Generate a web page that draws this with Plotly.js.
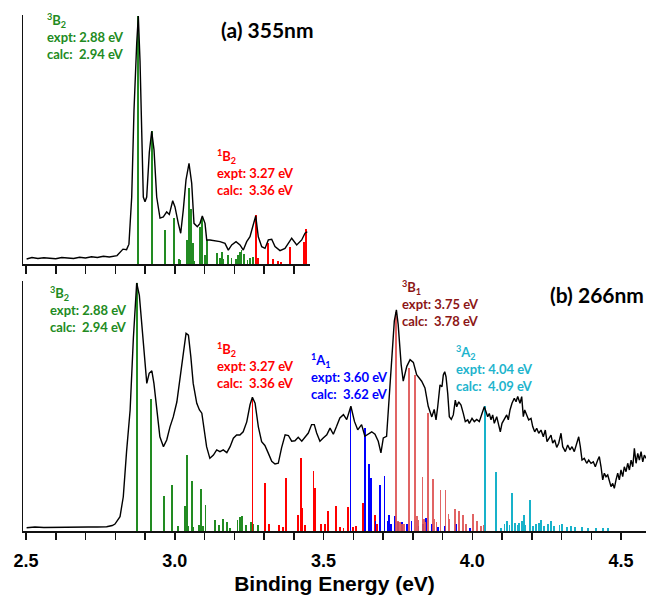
<!DOCTYPE html>
<html>
<head>
<meta charset="utf-8">
<script src="https://cdn.plot.ly/plotly-3.0.1.min.js"></script>
<style>html,body{margin:0;padding:0;background:#fff;}#chart{width:646px;height:595px;}</style>
</head>
<body>
<div id="chart"></div>
<script>
// ---------- (a) 355 nm : experimental spectrum ----------
const topE = [2.502,2.520,2.540,2.560,2.580,2.600,2.620,2.640,2.660,2.680,2.700,2.720,2.740,2.760,2.780,2.806,2.815,2.826,2.838,2.846,2.8553,2.8630,2.8721,2.8775,2.8832,2.8889,2.8943,2.9000,2.9057,2.9145,2.9225,2.9303,2.9393,2.9504,2.9615,2.9729,2.9817,2.9931,3.0008,3.0119,3.0200,3.0287,3.0378,3.0479,3.0570,3.0647,3.0758,3.0849,3.0926,3.1017,3.1074,3.1185,3.1353,3.1521,3.1689,3.1800,3.1914,3.2059,3.2193,3.2304,3.2418,3.2529,3.2620,3.2721,3.2808,3.2923,3.3034,3.3145,3.3259,3.3370,3.3538,3.3706,3.3931,3.4099,3.4267,3.4378,3.4455];
const topI = [0.020,0.026,0.022,0.025,0.023,0.021,0.026,0.023,0.022,0.027,0.024,0.029,0.026,0.031,0.028,0.034,0.045,0.060,0.058,0.080,0.27,0.62,0.89,1.0,0.82,0.49,0.27,0.251,0.27,0.45,0.535,0.46,0.27,0.185,0.19,0.21,0.20,0.255,0.23,0.164,0.124,0.218,0.339,0.406,0.325,0.164,0.150,0.164,0.194,0.164,0.097,0.097,0.095,0.090,0.083,0.056,0.077,0.090,0.077,0.056,0.090,0.110,0.150,0.194,0.110,0.070,0.063,0.097,0.100,0.070,0.054,0.063,0.104,0.077,0.097,0.124,0.130];

// (a) calculated sticks
const topGreenE = [2.8775,2.9235,2.968,2.9965,3.0153,3.0186,3.040,3.048,3.0546,3.0603,3.0655,3.0849,3.0926,3.1017,3.1095,3.141,3.152,3.1578,3.164,3.180,3.191,3.206,3.2125,3.219,3.224,3.233,3.2445,3.253,3.264];
const topGreenI = [1.0,0.535,0.137,0.184,0.020,0.015,0.097,0.305,0.220,0.083,0.012,0.150,0.185,0.036,0.097,0.043,0.025,0.050,0.020,0.035,0.025,0.020,0.035,0.047,0.055,0.040,0.015,0.025,0.030];
const topRedE = [3.272,3.281,3.3145,3.331,3.348,3.357,3.387,3.434,3.441];
const topRedI = [0.196,0.023,0.085,0.020,0.012,0.010,0.070,0.090,0.140];

// ---------- (b) 266 nm : experimental spectrum ----------
const botE = [2.502,2.530,2.560,2.590,2.620,2.650,2.680,2.710,2.740,2.771,2.790,2.799,2.816,2.827,2.838,2.850,2.861,2.872,2.881,2.892,2.906,2.914,2.923,2.930,2.939,2.950,2.962,2.973,2.984,2.995,3.007,3.018,3.029,3.038,3.046,3.054,3.062,3.074,3.083,3.091,3.098,3.107,3.118,3.130,3.141,3.152,3.163,3.175,3.186,3.197,3.208,3.219,3.230,3.242,3.253,3.261,3.270,3.281,3.292,3.303,3.314,3.326,3.337,3.348,3.359,3.371,3.382,3.393,3.404,3.415,3.427,3.438,3.449,3.460,3.469,3.477,3.488,3.499,3.511,3.522,3.533,3.544,3.555,3.567,3.578,3.592,3.604,3.615,3.628,3.639,3.651,3.662,3.673,3.684,3.693,3.701,3.712,3.720,3.729,3.738,3.745,3.751,3.761,3.768,3.780,3.791,3.802,3.813,3.830,3.841,3.852,3.864,3.872,
  3.8782,3.8839,3.8916,3.8983,3.9027,3.9074,3.9118,3.9175,3.9229,3.9296,3.9363,3.9430,3.9477,3.9545,3.9622,3.9699,3.9766,3.9847,3.9901,3.9992,4.0069,4.0150,4.0237,4.0328,4.0405,4.0462,4.0519,4.0573,4.0630,4.0687,4.0741,4.0822,4.0889,4.0943,4.1000,4.1077,4.1158,4.1212,4.1269,4.1336,4.1413,4.1471,4.1528,4.1605,4.1662,4.1716,4.1763,4.1830,4.1897,4.1975,4.2032,4.2099,4.2166,4.2234,4.2311,4.2388,4.2455,4.2513,4.2590,4.2647,4.2704,4.2771,4.2839,4.2906,4.2983,4.3040,4.3128,4.3208,4.3286,4.3353,4.3430,4.3511,4.3578,4.3632,4.3689,4.3766,4.3847,4.3914,4.3992,4.4069,4.4136,4.4217,4.4271,4.4328,4.4385,4.4439,4.4496,4.4553,4.4607,4.4664,4.4721,4.4775,4.4832,4.4889,4.4943,4.5000,4.5057,4.5111,4.5168,4.5225,4.5282,4.5339,4.5396,4.5449,4.5506,4.5563,4.5617,4.5674,4.5731,4.5785,4.5842];
const botI = [0.013,0.016,0.014,0.015,0.013,0.014,0.015,0.016,0.016,0.017,0.022,0.028,0.058,0.138,0.32,0.488,0.78,1.0,0.95,0.78,0.595,0.636,0.646,0.595,0.488,0.38,0.34,0.367,0.42,0.46,0.52,0.61,0.717,0.797,0.79,0.703,0.595,0.515,0.488,0.475,0.42,0.34,0.293,0.306,0.327,0.32,0.327,0.316,0.34,0.374,0.387,0.387,0.40,0.44,0.509,0.539,0.515,0.42,0.36,0.345,0.315,0.281,0.27,0.273,0.335,0.388,0.385,0.362,0.364,0.378,0.362,0.38,0.395,0.429,0.429,0.395,0.362,0.375,0.388,0.415,0.39,0.422,0.456,0.469,0.449,0.503,0.442,0.408,0.429,0.382,0.39,0.40,0.39,0.362,0.315,0.375,0.382,0.536,0.684,0.846,0.892,0.832,0.671,0.604,0.664,0.691,0.68,0.63,0.604,0.577,0.503,0.46,0.49,
  0.448,0.501,0.589,0.582,0.629,0.642,0.622,0.555,0.461,0.450,0.468,0.528,0.501,0.521,0.508,0.474,0.441,0.448,0.434,0.454,0.441,0.450,0.441,0.474,0.501,0.481,0.461,0.474,0.448,0.468,0.434,0.461,0.421,0.400,0.434,0.448,0.468,0.448,0.488,0.515,0.535,0.521,0.542,0.515,0.542,0.461,0.488,0.468,0.448,0.454,0.421,0.400,0.414,0.394,0.407,0.380,0.407,0.360,0.374,0.387,0.354,0.367,0.337,0.354,0.394,0.340,0.320,0.347,0.327,0.340,0.320,0.354,0.380,0.340,0.286,0.293,0.273,0.286,0.273,0.279,0.259,0.286,0.300,0.259,0.206,0.233,0.219,0.226,0.206,0.179,0.192,0.172,0.206,0.233,0.206,0.246,0.219,0.259,0.239,0.273,0.246,0.286,0.259,0.333,0.273,0.313,0.286,0.320,0.279,0.306,0.293];

// (b) calculated sticks, one pair of arrays per state
const botGreenE = [2.874,2.919,2.964,2.991,3.010,3.034,3.042,3.046,3.058,3.062,3.082,3.089,3.095,3.103,3.135,3.148,3.161,3.175,3.186,3.211,3.220,3.227,3.240,3.256,3.264,3.279];
const botGreenI = [1.0,0.533,0.14,0.184,0.019,0.10,0.308,0.02,0.203,0.015,0.025,0.171,0.02,0.104,0.044,0.025,0.05,0.035,0.012,0.046,0.055,0.059,0.025,0.035,0.03,0.025];
const botRedE = [3.261,3.304,3.318,3.351,3.365,3.375,3.413,3.424,3.429,3.438,3.466,3.471,3.492,3.505,3.516,3.542,3.555,3.567,3.583,3.600,3.608,3.632,3.636,3.673,3.680];
const botRedI = [0.539,0.194,0.03,0.025,0.015,0.214,0.063,0.294,0.093,0.025,0.241,0.173,0.03,0.03,0.079,0.102,0.015,0.012,0.096,0.015,0.02,0.113,0.08,0.066,0.03];
const botBlueE = [3.591,3.640,3.654,3.659,3.675,3.690,3.705,3.716,3.720,3.727,3.740,3.751,3.765,3.780,3.796,3.819,3.835,3.845,3.864,3.886,3.908,3.945,3.992];
const botBlueI = [0.502,0.415,0.27,0.213,0.04,0.186,0.22,0.04,0.066,0.03,0.06,0.035,0.035,0.03,0.04,0.02,0.03,0.052,0.03,0.015,0.02,0.03,0.012];
const bot3B1E = [3.744,3.750,3.757,3.763,3.770,3.788,3.808,3.815,3.819,3.833,3.838,3.841,3.852,3.867,3.872,3.880,3.893,3.910,3.920,3.923,3.943,3.955,3.968,3.980,4.002,4.015,4.030,4.040];
const bot3B1I = [0.884,0.04,0.035,0.03,0.03,0.656,0.629,0.06,0.045,0.219,0.05,0.035,0.475,0.208,0.05,0.038,0.167,0.167,0.07,0.05,0.09,0.08,0.065,0.03,0.07,0.04,0.02,0.025];
const botCyanE = [4.043,4.081,4.097,4.108,4.116,4.125,4.134,4.143,4.153,4.158,4.166,4.173,4.178,4.194,4.203,4.214,4.225,4.232,4.242,4.254,4.265,4.276,4.293,4.302,4.318,4.332,4.346,4.369,4.388,4.416,4.439,4.455];
const botCyanI = [0.505,0.238,0.012,0.028,0.042,0.023,0.155,0.032,0.025,0.032,0.042,0.066,0.025,0.126,0.02,0.028,0.032,0.043,0.02,0.028,0.04,0.02,0.025,0.028,0.018,0.02,0.016,0.018,0.014,0.012,0.012,0.012];

// state labels (text only)
const stateNames = {B2t: '<sup>3</sup>B<sub>2</sub>', B2s: '<sup>1</sup>B<sub>2</sub>', A1s: '<sup>1</sup>A<sub>1</sub>', B1t: '<sup>3</sup>B<sub>1</sub>', A2t: '<sup>3</sup>A<sub>2</sub>'};
const exptVals = {B2t: '2.88', B2s: '3.27', A1s: '3.60', B1t: '3.75', A2t: '4.04'};
const calcVals = {B2t: '2.94', B2s: '3.36', A1s: '3.62', B1t: '3.78', A2t: '4.09'};

// ---------- styles ----------
const C = {
  green: 'rgb(34,139,34)', red: '#ff0000', blue: '#0000ff',
  b1stick: 'rgb(222,84,84)', b1text: 'rgb(140,22,22)',
  cyan: 'rgb(24,178,202)', cyanText: 'rgb(30,180,205)'
};
const STICK_W = 0.006;

function curve(x, y, xa, ya) {
  return {type: 'scatter', mode: 'lines', x: x, y: y, xaxis: xa, yaxis: ya,
          line: {color: '#000', width: 1.4}, hoverinfo: 'skip', showlegend: false};
}
function sticks(x, y, color, xa, ya, op) {
  return {type: 'bar', x: x, y: y, xaxis: xa, yaxis: ya, width: STICK_W,
          marker: {color: color, line: {width: 0}}, opacity: op || 1,
          hoverinfo: 'skip', showlegend: false};
}

const data = [
  curve(topE, topI, 'x2', 'y2'),
  sticks(topGreenE, topGreenI, C.green, 'x2', 'y2'),
  sticks(topRedE, topRedI, C.red, 'x2', 'y2'),
  curve(botE, botI, 'x', 'y'),
  sticks(botGreenE, botGreenI, C.green, 'x', 'y'),
  sticks(botRedE, botRedI, C.red, 'x', 'y'),
  sticks(botBlueE, botBlueI, C.blue, 'x', 'y'),
  sticks(bot3B1E, bot3B1I, C.b1stick, 'x', 'y', 0.9),
  sticks(botCyanE, botCyanI, C.cyan, 'x', 'y')
];

// ---------- annotations ----------
const W = 646, H = 595, ML = 23, MR = 0, MT = 15, MB = 64;
const PW = W - ML - MR, PH = H - MT - MB;
function px2paper(px, py) { return [(px - ML) / PW, (H - MB - py) / PH]; }

const labelFont = 'Lato, "Open Sans", sans-serif';
function stateLabel(key, px, pyTop, color) {
  const p = px2paper(px, pyTop);
  const t = stateNames[key] + '<br>expt: ' + exptVals[key] + ' eV<br>calc:&nbsp; ' + calcVals[key] + ' eV';
  return {text: t, x: p[0], y: p[1], xref: 'paper', yref: 'paper', xanchor: 'left', yanchor: 'top', align: 'left',
          borderpad: 0, showarrow: false, font: {family: labelFont, size: 13, weight: 'bold', color: color}};
}
function panelLabel(t, px, py) {
  const p = px2paper(px, py);
  return {text: t, x: p[0], y: p[1], xref: 'paper', yref: 'paper', xanchor: 'left', yanchor: 'middle',
          showarrow: false, font: {family: labelFont, size: 21, weight: 'bold', color: '#000'}};
}

const annotations = [
  stateLabel('B2t', 46, 10, C.green),
  stateLabel('B2s', 216, 146, C.red),
  panelLabel('(a) 355nm', 219, 29.5),
  stateLabel('B2t', 49, 283, C.green),
  stateLabel('B2s', 216, 339, C.red),
  stateLabel('A1s', 310, 350, C.blue),
  stateLabel('B1t', 401, 277, C.b1text),
  stateLabel('A2t', 455, 342, C.cyanText),
  panelLabel('(b) 266nm', 548, 294.5)
];

const tickFont = {family: '"Liberation Sans", Arial, sans-serif', size: 18, weight: 'bold', color: '#000'};
const axisLine = {showline: true, linecolor: '#111', linewidth: 1.5, showgrid: false, zeroline: false};

const layout = {
  width: W, height: H,
  margin: {l: ML, r: MR, t: MT, b: MB, pad: 0},
  paper_bgcolor: '#fff', plot_bgcolor: '#fff',
  barmode: 'overlay', bargap: 0,
  showlegend: false,
  xaxis: Object.assign({}, axisLine, {
    domain: [0, 1], range: [2.4899, 4.584], anchor: 'y',
    tick0: 2.5, dtick: 0.5, tickformat: '.1f',
    ticks: 'outside', ticklen: 7, tickwidth: 1.5, tickcolor: '#111',
    minor: {tick0: 2.5, dtick: 0.1, ticks: 'outside', ticklen: 7, tickwidth: 1.5, tickcolor: '#111', showgrid: false},
    tickfont: tickFont, ticklabelstandoff: 6,
    title: {text: 'Binding Energy (eV)', standoff: 6,
            font: {family: '"Liberation Sans", Arial, sans-serif', size: 21, weight: 'bold', color: '#000'}}
  }),
  yaxis: Object.assign({}, axisLine, {
    domain: [0, 250 / PH], range: [0, 1.008], anchor: 'x',
    ticks: '', showticklabels: false
  }),
  xaxis2: Object.assign({}, axisLine, {
    domain: [0, 287 / PW], range: [2.4899, 3.4546], anchor: 'y2',
    tick0: 2.5, dtick: 0.1, ticks: 'outside', ticklen: 8, tickwidth: 1.5, tickcolor: '#111',
    showticklabels: false
  }),
  yaxis2: Object.assign({}, axisLine, {
    domain: [(H - MB - 264) / PH, 1], range: [0, 1.004], anchor: 'x2',
    ticks: '', showticklabels: false
  }),
  annotations: annotations
};

Plotly.newPlot('chart', data, layout, {staticPlot: true, displayModeBar: false});
</script>
</body>
</html>
